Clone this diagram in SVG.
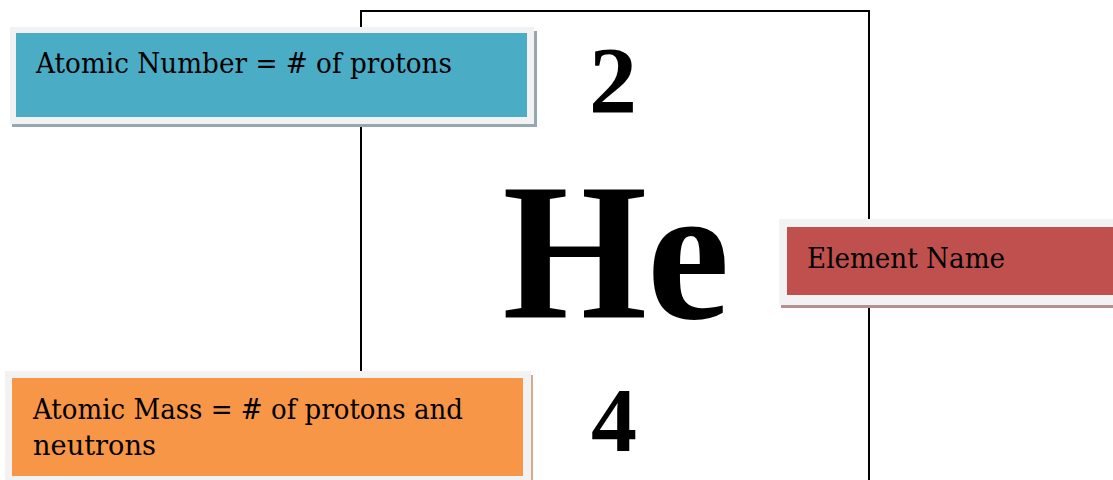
<svg xmlns="http://www.w3.org/2000/svg" width="1113" height="480" viewBox="0 0 1113 480">
<style>
.lbl{font-family:"DejaVu Serif","Liberation Serif",serif;font-size:27px;fill:#000}
.big{font-family:"Liberation Serif","DejaVu Serif",serif;font-weight:bold;fill:#000;text-anchor:middle}
.frame{fill:#f2f2f2}
</style>
<rect width="1113" height="480" fill="#fff"/>
<g id="element-card">
<path d="M361 480 V11 H869 V480" fill="none" stroke="#000" stroke-width="2"/>
<text class="big" x="613" y="113" font-size="96">2</text>
<text class="big" x="616" y="318" font-size="194" textLength="227" lengthAdjust="spacingAndGlyphs">He</text>
<text class="big" x="614" y="451" font-size="92">4</text>
</g>
<g id="atomic-number">
<rect x="12" y="31" width="525" height="96" fill="#93a8b0"/>
<rect class="frame" x="10" y="27" width="524" height="97"/>
<rect x="16" y="33" width="511" height="84" fill="#4bacc6"/>
<text class="lbl" x="36" y="73" textLength="416" lengthAdjust="spacingAndGlyphs">Atomic Number = # of protons</text>
</g>
<g id="element-name">
<rect x="781" y="223" width="332" height="85" fill="#b49090"/>
<rect class="frame" x="779" y="219" width="334" height="86"/>
<rect x="787" y="227" width="326" height="68" fill="#c0504d"/>
<text class="lbl" x="807" y="268" textLength="198" lengthAdjust="spacingAndGlyphs">Element Name</text>
</g>
<g id="atomic-mass">
<rect x="7" y="375" width="526" height="105" fill="#d7a98a"/>
<rect class="frame" x="5" y="371" width="526" height="109"/>
<rect x="12" y="378" width="511" height="98" fill="#f79646"/>
<text class="lbl" x="33" y="419" textLength="430" lengthAdjust="spacingAndGlyphs">Atomic Mass = # of protons and</text>
<text class="lbl" x="33" y="455" textLength="123" lengthAdjust="spacingAndGlyphs">neutrons</text>
</g>
<g id="connectors"/>
</svg>
